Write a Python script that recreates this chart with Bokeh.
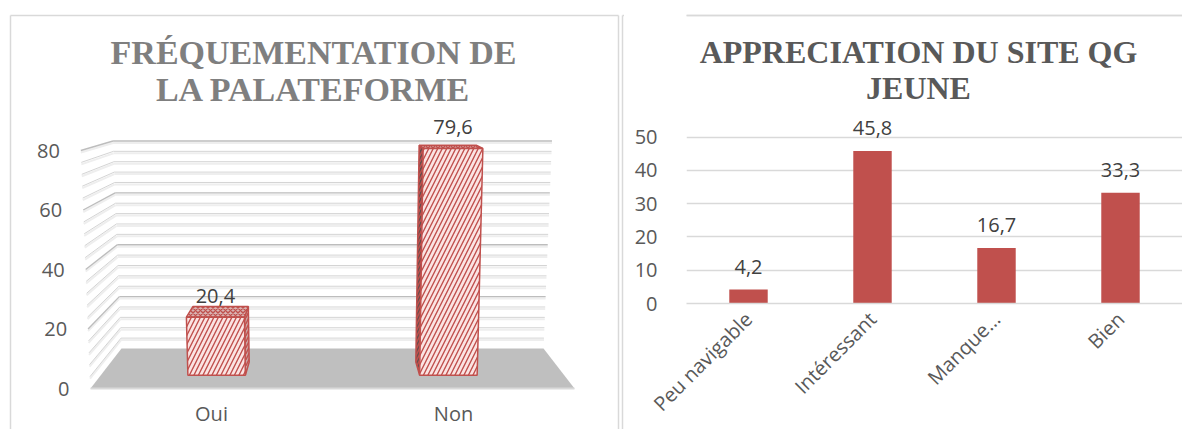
import math
from bokeh.plotting import figure
from bokeh.models import Range1d, FactorRange, FixedTicker, BoxAnnotation, Span, ColumnDataSource
from bokeh.layouts import row
from bokeh.embed import file_html
from bokeh.resources import INLINE
from bokeh.core.properties import value

# ---------------- data ----------------
freq_categories = ["Oui", "Non"]
freq_values = [20.4, 79.6]
freq_ticks = [0, 20, 40, 60, 80]
freq_minor_step = 4
freq_title = "FRÉQUEMENTATION DE\nLA PALATEFORME"

app_categories = ["Peu navigable", "Intéressant", "Manque…", "Bien"]
app_values = [4.2, 45.8, 16.7, 33.3]
app_ticks = [0, 10, 20, 30, 40, 50]
app_title = "APPRECIATION DU SITE QG\nJEUNE"


def fr(v):
    return f"{v:.1f}".replace(".", ",")


# ---------------- styles ----------------
GRID = "#d9d9d9"
TXT = "#595959"
LBL = "#404040"
RED = "#c0504d"
FONT = "Open Sans"
H = 429
W1 = 624
W2 = 558

# faux 3-D projection for the left chart (layout constants, pixels)
CX = 332
BASE = 388
K = 2.975
HALF = 242
DEPTH_PX = 40
SHRINK = 0.128
LEAN = 0.0005
T0, T1 = 0.33, 0.66
BAR_HALF = 30


def proj(X, v, t):
    s = (1 - SHRINK * t) * (1 + LEAN * v)
    return CX + X * s, BASE - DEPTH_PX * t - v * K * (1 - SHRINK * t)


# ---------------- left chart ----------------
p1 = figure(width=W1, height=H, x_range=Range1d(0, W1), y_range=Range1d(H, 0),
            x_axis_location=None, y_axis_location=None, title_location=None,
            output_backend="svg", toolbar_location=None, min_border=0)
p1.grid.visible = False
p1.outline_line_color = None
p1.background_fill_color = "white"
p1.border_fill_color = "white"

# panel borders
p1.multi_line(xs=[[10, 10], [10, 618], [618, 618], [622, W1], [622, 622]],
              ys=[[15, H], [15, 15], [15, H], [15, 15], [15, H]],
              line_color=GRID, line_width=1.5)

# floor
fl = [proj(-HALF, 0, 0), proj(HALF, 0, 0), proj(HALF, 0, 1), proj(-HALF, 0, 1)]
p1.patch([q[0] for q in fl], [q[1] for q in fl], fill_color="#bfbfbf", line_color=None)
p1.line([fl[0][0], fl[1][0]], [fl[0][1], fl[1][1]], line_color="#d9d9d9", line_width=2)

# wall gridlines (back wall + side wall)
gvals = list(range(freq_minor_step, freq_ticks[-1] + 1, freq_minor_step))
sh_xs, sh_ys, g_xs, g_ys, g_col, g_w = [], [], [], [], [], []
for v in gvals:
    a = proj(-HALF, v, 0)
    b = proj(-HALF, v, 1)
    c = proj(HALF, v, 1)
    major = v in freq_ticks
    for (p, q) in ((a, b), (b, c)):
        sh_xs.append([p[0], q[0]])
        sh_ys.append([p[1] + 2, q[1] + 2])
        g_xs.append([p[0], q[0]])
        g_ys.append([p[1], q[1]])
        g_col.append("#bdbdbd" if major else "#d4d4d4")
        g_w.append(1.4 if major else 1.0)
p1.multi_line(sh_xs, sh_ys, line_color="#eeeeee", line_width=2)
p1.multi_line(g_xs, g_ys, line_color=g_col, line_width=g_w)

# bars
n = len(freq_categories)
spacing = 2 * HALF / n
faces = dict(xs=[], ys=[], fill=[], hatch=[], hscale=[])
lab = dict(x=[], y=[], text=[])
cat = dict(x=[], y=[], text=[])
for i, (c, v) in enumerate(zip(freq_categories, freq_values)):
    X = -HALF + spacing * (i + 0.5)
    xs_side = X + BAR_HALF if X < 0 else X - BAR_HALF
    side = [proj(xs_side, 0, T0), proj(xs_side, 0, T1), proj(xs_side, v, T1), proj(xs_side, v, T0)]
    top = [proj(X - BAR_HALF, v, T0), proj(X + BAR_HALF, v, T0),
           proj(X + BAR_HALF, v, T1), proj(X - BAR_HALF, v, T1)]
    front = [proj(X - BAR_HALF, 0, T0), proj(X + BAR_HALF, 0, T0),
             proj(X + BAR_HALF, v, T0), proj(X - BAR_HALF, v, T0)]
    for poly, fcol, hp, hs in ((side, "#c9a3a2" if X < 0 else "#6a4d4c", "/", 6),
                               (top, "#d9b3b2", "x", 5),
                               (front, "#fbe4e3", "/", 9)):
        faces["xs"].append([q[0] for q in poly])
        faces["ys"].append([q[1] for q in poly])
        faces["fill"].append(fcol)
        faces["hatch"].append(hp)
        faces["hscale"].append(hs)
    tx, ty = proj(X, v, T0)
    lab["x"].append(tx)
    lab["y"].append(ty - 21)
    lab["text"].append(fr(v))
    bx, by = proj(X, 0, 0)
    cat["x"].append(bx)
    cat["y"].append(by + 25)
    cat["text"].append(c)

p1.patches(xs="xs", ys="ys", source=ColumnDataSource(faces), fill_color="fill",
           hatch_pattern="hatch", hatch_scale="hscale", hatch_color=RED, hatch_weight=1.4,
           line_color=RED, line_width=1.5)

p1.text(x="x", y="y", text="text", source=ColumnDataSource(lab), text_font=value(FONT),
        text_font_size="20px", text_color=LBL, text_align="center", text_baseline="middle")
p1.text(x="x", y="y", text="text", source=ColumnDataSource(cat), text_font=value(FONT),
        text_font_size="20px", text_color=TXT, text_align="center", text_baseline="middle")

tk = dict(x=[], y=[], text=[])
for v in freq_ticks:
    ex, ey = proj(-HALF, v, 0)
    tk["x"].append(ex - 21)
    tk["y"].append(ey)
    tk["text"].append(str(v))
p1.text(x="x", y="y", text="text", source=ColumnDataSource(tk), text_font=value(FONT),
        text_font_size="20px", text_color=TXT, text_align="right", text_baseline="middle")

p1.text(x=[313], y=[70], text=[freq_title], text_font=value("Liberation Serif"),
        text_font_style="bold", text_font_size="34px", text_color="#7f7f7f",
        text_align="center", text_baseline="middle", text_line_height=1.0)

# ---------------- right chart ----------------
ZERO_Y = 304          # canvas y of value 0
PX_PER = 3.34         # px per unit
ytop = ZERO_Y / PX_PER

p2 = figure(width=W2, height=H, x_range=FactorRange(factors=app_categories),
            y_range=Range1d(0, ytop), title_location=None,
            output_backend="svg", toolbar_location=None,
            min_border_left=686 - W1, min_border_right=0, min_border_top=0,
            min_border_bottom=H - ZERO_Y)
p2.outline_line_color = None
p2.background_fill_color = "white"
p2.border_fill_color = "white"
p2.xgrid.visible = False
p2.ygrid.ticker = FixedTicker(ticks=app_ticks)
p2.ygrid.grid_line_color = GRID
p2.ygrid.grid_line_width = 1.5

for pp in (p1, p2):
    try:
        pp.frame_align = False
    except Exception:
        pass

p2.yaxis.ticker = FixedTicker(ticks=app_ticks)
p2.yaxis.axis_line_color = None
p2.yaxis.major_tick_line_color = None
p2.yaxis.minor_tick_line_color = None
p2.yaxis.major_label_standoff = 23
p2.yaxis.major_label_text_font = FONT
p2.yaxis.major_label_text_font_size = "20px"
p2.yaxis.major_label_text_color = TXT

p2.xaxis.axis_line_color = GRID
p2.xaxis.axis_line_width = 1.5
p2.xaxis.major_tick_line_color = None
p2.xaxis.minor_tick_line_color = None
p2.xaxis.major_label_orientation = math.pi / 4
p2.xaxis.major_label_standoff = 6
p2.xaxis.major_label_text_font = FONT
p2.xaxis.major_label_text_font_size = "20px"
p2.xaxis.major_label_text_color = TXT

src2 = ColumnDataSource(dict(x=app_categories, top=app_values,
                             text=[fr(v) for v in app_values]))
p2.vbar(x="x", top="top", width=0.31, source=src2, fill_color=RED, line_color=None)
p2.text(x="x", y="top", text="text", source=src2, text_font=value(FONT), text_font_size="20px",
        text_color=LBL, text_align="center", text_baseline="middle", y_offset=-23)

p2.text(x=[app_categories[1]], y=[(ZERO_Y - 70) / PX_PER], x_offset=46, text=[app_title],
        text_font=value("Liberation Serif"), text_font_style="bold", text_font_size="32px",
        text_color=TXT, text_align="center", text_baseline="middle", text_line_height=1.0)

border_y = (ZERO_Y - 15) / PX_PER
p2.add_layout(Span(location=border_y, dimension="width", line_color=GRID, line_width=1.5))
try:
    bx = BoxAnnotation(left=0, right=W2, top=14.2, bottom=15.8,
                       left_units="canvas", right_units="canvas",
                       top_units="canvas", bottom_units="canvas",
                       fill_color=GRID, fill_alpha=1.0, line_color=None, level="overlay")
    p2.add_layout(bx)
except Exception:
    pass

layout = row(p1, p2)
open("out.html", "w").write(file_html(layout, INLINE))
